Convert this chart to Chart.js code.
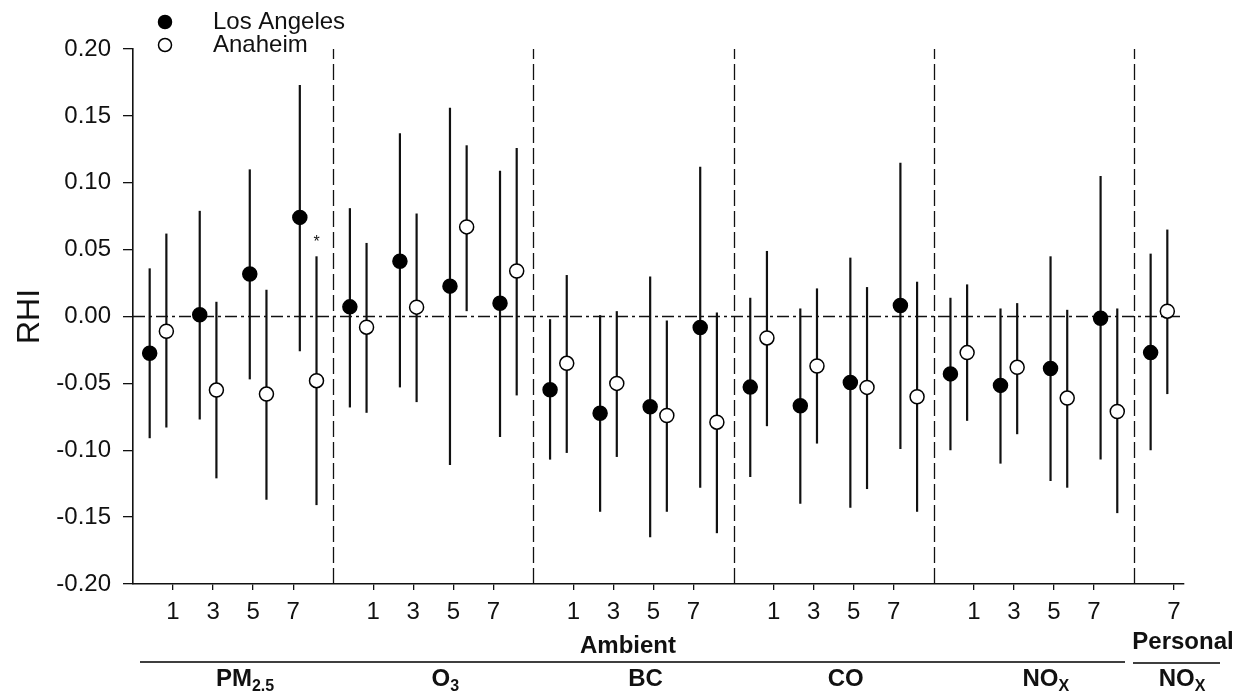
<!DOCTYPE html>
<html>
<head>
<meta charset="utf-8">
<script src="https://cdn.jsdelivr.net/npm/chart.js@4"></script>
<style>
  body { margin: 0; background: #fff; }
  canvas { display: block; }
</style>
</head>
<body>
<canvas id="rhiChart" width="1244" height="698"></canvas>
<script>
// pollutant groups (last one is personal NOx, lag 7 only)
const groupNames = ["PM2.5", "O3", "BC", "CO", "NOx", "NOx"];
const lagLabels = ["1", "3", "5", "7"];
const personalLags = ["7"];

// Los Angeles: estimate, lower, upper (PM2.5, O3, BC, CO, NOx x lags 1,3,5,7, then personal NOx)
const laEst = [-0.0275, 0.0013, 0.0317, 0.0741, 0.0072, 0.0413, 0.0227, 0.0099,
  -0.0547, -0.0723, -0.0675, -0.0083, -0.0528, -0.0667, -0.0493, 0.0083,
  -0.0429, -0.0515, -0.0389, -0.0013, -0.027];
const laLow = [-0.091, -0.077, -0.047, -0.026, -0.068, -0.053, -0.111, -0.090,
  -0.107, -0.146, -0.165, -0.128, -0.120, -0.140, -0.143, -0.099,
  -0.100, -0.110, -0.123, -0.107, -0.100];
const laHigh = [0.036, 0.079, 0.110, 0.173, 0.081, 0.137, 0.156, 0.109,
  -0.002, 0.001, 0.030, 0.112, 0.014, 0.006, 0.044, 0.115,
  0.014, 0.006, 0.045, 0.105, 0.047];

// Anaheim
const anEst = [-0.011, -0.055, -0.058, -0.048, -0.008, 0.007, 0.067, 0.034,
  -0.035, -0.050, -0.074, -0.079, -0.016, -0.037, -0.053, -0.060,
  -0.027, -0.038, -0.061, -0.071, 0.004];
const anLow = [-0.083, -0.121, -0.137, -0.141, -0.072, -0.064, 0.004, -0.059,
  -0.102, -0.105, -0.146, -0.162, -0.082, -0.095, -0.129, -0.146,
  -0.078, -0.088, -0.128, -0.147, -0.058];
const anHigh = [0.062, 0.011, 0.020, 0.045, 0.055, 0.077, 0.128, 0.126,
  0.031, 0.004, -0.003, 0.003, 0.049, 0.021, 0.022, 0.026,
  0.024, 0.010, 0.005, 0.006, 0.065];

// significance marker: Anaheim, PM2.5 lag 7
const starIndex = 3;

const yTicks = [-0.20, -0.15, -0.10, -0.05, 0.00, 0.05, 0.10, 0.15, 0.20];

// each group is 12 x-units wide
const GW = 12;
const xLA = [], xAN = [], tickPos = [], tickText = [];
groupNames.forEach(function (g, gi) {
  const lags = gi < 5 ? lagLabels : personalLags;
  lags.forEach(function (lab, k) {
    xLA.push(gi * GW + 1 + 3 * k);
    xAN.push(gi * GW + 2 + 3 * k);
    tickPos.push(gi * GW + 2.4 * (k + 1));
    tickText.push(lab);
  });
});

const laPoints = laEst.map((v, i) => ({ x: xLA[i], y: v, lo: laLow[i], hi: laHigh[i] }));
const anPoints = anEst.map((v, i) => ({ x: xAN[i], y: v, lo: anLow[i], hi: anHigh[i] }));

const FONT = "'Liberation Sans', Arial, sans-serif";
const INK = "#111";

const decorPlugin = {
  id: "decor",
  beforeDatasetsDraw(chart) {
    const ctx = chart.ctx;
    const xs = chart.scales.x, ys = chart.scales.y;
    const area = chart.chartArea;
    ctx.save();
    // group dividers
    ctx.strokeStyle = INK;
    ctx.lineWidth = 1.3;
    ctx.setLineDash([16, 5]);
    for (let gi = 1; gi < groupNames.length; gi++) {
      const px = Math.round(xs.getPixelForValue(gi * GW)) + 0.5;
      ctx.beginPath();
      ctx.moveTo(px, area.bottom);
      ctx.lineTo(px, area.top);
      ctx.stroke();
    }
    // zero reference line
    ctx.setLineDash([12, 4, 3, 4]);
    ctx.lineWidth = 1.5;
    const y0 = ys.getPixelForValue(0);
    ctx.beginPath();
    ctx.moveTo(area.left, y0);
    ctx.lineTo(area.right, y0);
    ctx.stroke();
    ctx.setLineDash([]);
    // error bars
    ctx.lineWidth = 2.2;
    chart.data.datasets.forEach(function (ds) {
      ds.data.forEach(function (p) {
        const px = xs.getPixelForValue(p.x);
        ctx.beginPath();
        ctx.moveTo(px, ys.getPixelForValue(p.lo));
        ctx.lineTo(px, ys.getPixelForValue(p.hi));
        ctx.stroke();
      });
    });
    ctx.restore();
  },
  afterDraw(chart) {
    const ctx = chart.ctx;
    const xs = chart.scales.x, ys = chart.scales.y;
    ctx.save();
    ctx.fillStyle = INK;
    ctx.strokeStyle = INK;

    // asterisk
    const sp = anPoints[starIndex];
    ctx.font = "16px " + FONT;
    ctx.textAlign = "center";
    ctx.textBaseline = "middle";
    ctx.fillText("*", xs.getPixelForValue(sp.x), ys.getPixelForValue(sp.hi) - 14);

    // legend
    const lx = 165;
    [["Los Angeles", "#000", 22], ["Anaheim", "#fff", 45]].forEach(function (it) {
      ctx.beginPath();
      ctx.arc(lx, it[2], 6.5, 0, Math.PI * 2);
      ctx.fillStyle = it[1];
      ctx.fill();
      ctx.lineWidth = 1.5;
      ctx.strokeStyle = "#000";
      ctx.stroke();
      ctx.fillStyle = INK;
      ctx.font = "24px " + FONT;
      ctx.textAlign = "left";
      ctx.fillText(it[0], 213, it[2]);
    });

    // bottom group labels
    const base = 686;
    function subLabel(main, sub, cx) {
      ctx.font = "bold 24px " + FONT;
      const w1 = ctx.measureText(main).width;
      ctx.font = "bold 16px " + FONT;
      const w2 = sub ? ctx.measureText(sub).width : 0;
      const x0 = cx - (w1 + w2) / 2;
      ctx.textAlign = "left";
      ctx.textBaseline = "alphabetic";
      ctx.font = "bold 24px " + FONT;
      ctx.fillText(main, x0, base);
      if (sub) {
        ctx.font = "bold 16px " + FONT;
        ctx.fillText(sub, x0 + w1, base + 5);
      }
    }
    const subs = [["PM", "2.5"], ["O", "3"], ["BC", ""], ["CO", ""], ["NO", "X"]];
    subs.forEach(function (s, gi) {
      subLabel(s[0], s[1], xs.getPixelForValue(gi * GW + GW / 2) + 12);
    });
    const persX = xs.getPixelForValue(tickPos[tickPos.length - 1]) + 8;
    subLabel("NO", "X", persX);

    ctx.font = "bold 24px " + FONT;
    ctx.textAlign = "center";
    ctx.textBaseline = "middle";
    ctx.fillText("Ambient", 628, 646);
    ctx.fillText("Personal", 1183, 642);

    ctx.lineWidth = 1.6;
    ctx.beginPath();
    ctx.moveTo(140, 662);
    ctx.lineTo(1125, 662);
    ctx.moveTo(1133, 663);
    ctx.lineTo(1220, 663);
    ctx.stroke();
    ctx.restore();
  }
};

new Chart(document.getElementById("rhiChart"), {
  type: "scatter",
  data: {
    datasets: [
      {
        label: "Los Angeles",
        data: laPoints,
        pointRadius: 7,
        pointBackgroundColor: "#000",
        pointBorderColor: "#000",
        pointBorderWidth: 1.5,
      },
      {
        label: "Anaheim",
        data: anPoints,
        pointRadius: 7,
        pointBackgroundColor: "#fff",
        pointBorderColor: "#000",
        pointBorderWidth: 1.5,
      },
    ],
  },
  options: {
    responsive: false,
    animation: false,
    layout: { padding: { top: 49, right: 60, left: 0, bottom: 0 } },
    plugins: {
      legend: { display: false },
      tooltip: { enabled: false },
    },
    scales: {
      x: {
        type: "linear",
        min: 0,
        max: 63,
        afterBuildTicks: function (scale) {
          scale.ticks = tickPos.map((v) => ({ value: v }));
        },
        afterFit: function (scale) {
          scale.height = 114;
        },
        ticks: {
          autoSkip: false,
          maxRotation: 0,
          padding: 8,
          color: INK,
          font: { family: FONT, size: 24 },
          callback: function (v, i) {
            return tickText[i];
          },
        },
        grid: { drawOnChartArea: false, tickLength: 6, color: INK, lineWidth: 1.3 },
        border: { color: INK, width: 1.6 },
      },
      y: {
        min: -0.2,
        max: 0.2,
        afterBuildTicks: function (scale) {
          scale.ticks = yTicks.map((v) => ({ value: v }));
        },
        afterFit: function (scale) {
          scale.width = 133;
        },
        ticks: {
          padding: 12,
          color: INK,
          font: { family: FONT, size: 24 },
          callback: function (v) {
            return (Math.abs(v) < 1e-9 ? 0 : v).toFixed(2);
          },
        },
        title: {
          display: true,
          text: "RHI",
          color: INK,
          font: { family: FONT, size: 32 },
          padding: { top: 11, bottom: 0 },
        },
        grid: { drawOnChartArea: false, tickLength: 10, color: INK, lineWidth: 1.3 },
        border: { color: INK, width: 1.6 },
      },
    },
  },
  plugins: [decorPlugin],
});
</script>
</body>
</html>
